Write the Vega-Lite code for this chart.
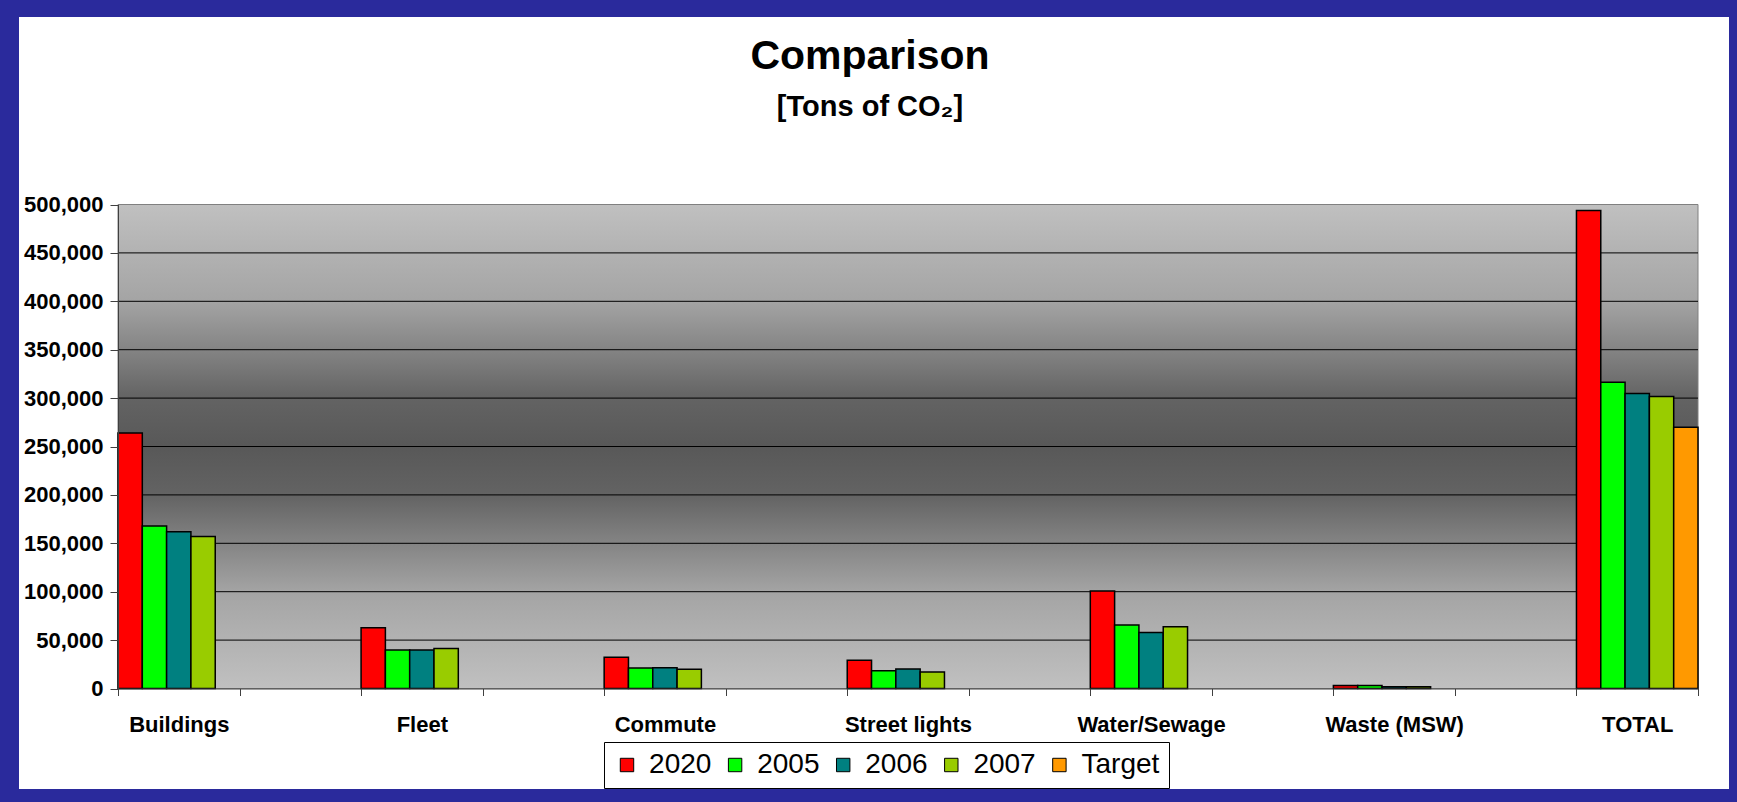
{
  "$schema": "https://vega.github.io/schema/vega-lite/v6.json",
  "width": 1710,
  "height": 772,
  "autosize": {"type": "none"},
  "padding": {"left": 19, "top": 17, "right": 8, "bottom": 13},
  "background": "#2a2a9c",
  "config": {
    "view": {"fill": "white", "stroke": null},
    "font": "Liberation Sans"
  },
  "title": {
    "text": "Comparison",
    "subtitle": "[Tons of CO₂]",
    "font": "Liberation Sans",
    "fontSize": 41,
    "fontWeight": "bold",
    "color": "black",
    "subtitleFont": "Liberation Sans",
    "subtitleFontSize": 29,
    "subtitleFontWeight": "bold",
    "subtitleColor": "black",
    "subtitlePadding": 15,
    "anchor": "middle",
    "offset": -106,
    "dx": -4
  },
  "data": {
    "values": [
      {"category": "Buildings", "series": "2020", "value": 264000},
      {"category": "Buildings", "series": "2005", "value": 168000},
      {"category": "Buildings", "series": "2006", "value": 162000},
      {"category": "Buildings", "series": "2007", "value": 157000},
      {"category": "Fleet", "series": "2020", "value": 62800},
      {"category": "Fleet", "series": "2005", "value": 39900},
      {"category": "Fleet", "series": "2006", "value": 39900},
      {"category": "Fleet", "series": "2007", "value": 41300},
      {"category": "Commute", "series": "2020", "value": 32300},
      {"category": "Commute", "series": "2005", "value": 21200},
      {"category": "Commute", "series": "2006", "value": 21500},
      {"category": "Commute", "series": "2007", "value": 19800},
      {"category": "Street lights", "series": "2020", "value": 29200},
      {"category": "Street lights", "series": "2005", "value": 18400},
      {"category": "Street lights", "series": "2006", "value": 20100},
      {"category": "Street lights", "series": "2007", "value": 17000},
      {"category": "Water/Sewage", "series": "2020", "value": 100700},
      {"category": "Water/Sewage", "series": "2005", "value": 65500},
      {"category": "Water/Sewage", "series": "2006", "value": 57900},
      {"category": "Water/Sewage", "series": "2007", "value": 63800},
      {"category": "Waste (MSW)", "series": "2020", "value": 3100},
      {"category": "Waste (MSW)", "series": "2005", "value": 3100},
      {"category": "Waste (MSW)", "series": "2006", "value": 1700},
      {"category": "Waste (MSW)", "series": "2007", "value": 1700},
      {"category": "TOTAL", "series": "2020", "value": 493800},
      {"category": "TOTAL", "series": "2005", "value": 316400},
      {"category": "TOTAL", "series": "2006", "value": 304800},
      {"category": "TOTAL", "series": "2007", "value": 301700},
      {"category": "TOTAL", "series": "Target", "value": 269900}
    ]
  },
  "layer": [
    {
      "data": {"values": [{"panel": "plot area"}]},
      "mark": {
        "type": "rect",
        "stroke": "#808080",
        "strokeWidth": 1,
        "fill": {
          "gradient": "linear",
          "x1": 0, "y1": 0, "x2": 0, "y2": 1,
          "stops": [
            {"offset": 0, "color": "#c0c0c0"},
            {"offset": 0.2, "color": "#a4a4a4"},
            {"offset": 0.3, "color": "#848484"},
            {"offset": 0.4, "color": "#636363"},
            {"offset": 0.5, "color": "#585858"},
            {"offset": 0.6, "color": "#636363"},
            {"offset": 0.7, "color": "#848484"},
            {"offset": 0.8, "color": "#a4a4a4"},
            {"offset": 1, "color": "#c0c0c0"}
          ]
        }
      },
      "encoding": {
        "x": {
          "datum": "Buildings", "type": "nominal", "bandPosition": 0,
          "scale": {
            "domain": ["Buildings", " ", "Fleet", "  ", "Commute", "   ", "Street lights", "    ", "Water/Sewage", "     ", "Waste (MSW)", "      ", "TOTAL"],
            "range": [99, 1679], "paddingInner": 0, "paddingOuter": 0
          },
          "axis": {
            "title": null, "orient": "bottom", "offset": -100.5, "tickBand": "extent",
            "tickSize": 7, "tickColor": "#404040", "domainColor": "#404040",
            "labelFontSize": 22, "labelFontWeight": "bold", "labelFont": "Liberation Sans",
            "labelColor": "black", "labelPadding": 19, "labelAngle": 0,
            "labelOverlap": false, "labelLimit": 0, "grid": false, "zindex": 1
          }
        },
        "x2": {"datum": "TOTAL", "bandPosition": 1},
        "y": {
          "datum": 500000, "type": "quantitative",
          "scale": {"domain": [0, 500000], "range": [671.5, 187.5], "nice": false},
          "axis": {
            "title": null, "offset": -99, "tickCount": 10, "format": ",",
            "labelExpr": "format(datum.value, ',')",
            "tickSize": 8, "tickColor": "#404040", "domainColor": "#404040",
            "labelFontSize": 22, "labelFontWeight": "bold", "labelFont": "Liberation Sans",
            "labelColor": "black", "labelPadding": 7, "grid": false, "zindex": 1
          }
        },
        "y2": {"datum": 0}
      }
    },
    {
      "data": {"values": [
        {"gridValue": 50000}, {"gridValue": 100000}, {"gridValue": 150000},
        {"gridValue": 200000}, {"gridValue": 250000}, {"gridValue": 300000},
        {"gridValue": 350000}, {"gridValue": 400000}, {"gridValue": 450000}
      ]},
      "mark": {"type": "rule", "color": "#000000", "strokeWidth": 1},
      "encoding": {
        "x": {
          "datum": "Buildings", "type": "nominal", "bandPosition": 0,
          "scale": {
            "domain": ["Buildings", " ", "Fleet", "  ", "Commute", "   ", "Street lights", "    ", "Water/Sewage", "     ", "Waste (MSW)", "      ", "TOTAL"],
            "range": [99, 1679], "paddingInner": 0, "paddingOuter": 0
          },
          "axis": {
            "title": null, "orient": "bottom", "offset": -100.5, "tickBand": "extent",
            "tickSize": 7, "tickColor": "#404040", "domainColor": "#404040",
            "labelFontSize": 22, "labelFontWeight": "bold", "labelFont": "Liberation Sans",
            "labelColor": "black", "labelPadding": 19, "labelAngle": 0,
            "labelOverlap": false, "labelLimit": 0, "grid": false, "zindex": 1
          }
        },
        "x2": {"datum": "TOTAL", "bandPosition": 1},
        "y": {
          "field": "gridValue", "type": "quantitative",
          "scale": {"domain": [0, 500000], "range": [671.5, 187.5], "nice": false},
          "axis": {
            "title": null, "offset": -99, "tickCount": 10, "format": ",",
            "labelExpr": "format(datum.value, ',')",
            "tickSize": 8, "tickColor": "#404040", "domainColor": "#404040",
            "labelFontSize": 22, "labelFontWeight": "bold", "labelFont": "Liberation Sans",
            "labelColor": "black", "labelPadding": 7, "grid": false, "zindex": 1
          }
        }
      }
    },
    {
      "mark": {"type": "bar", "stroke": "#000000", "strokeWidth": 1.5},
      "encoding": {
        "x": {
          "field": "category", "type": "nominal", "sort": null,
          "scale": {
            "domain": ["Buildings", " ", "Fleet", "  ", "Commute", "   ", "Street lights", "    ", "Water/Sewage", "     ", "Waste (MSW)", "      ", "TOTAL"],
            "range": [99, 1679], "paddingInner": 0, "paddingOuter": 0
          },
          "axis": {
            "title": null, "orient": "bottom", "offset": -100.5, "tickBand": "extent",
            "tickSize": 7, "tickColor": "#404040", "domainColor": "#404040",
            "labelFontSize": 22, "labelFontWeight": "bold", "labelFont": "Liberation Sans",
            "labelColor": "black", "labelPadding": 19, "labelAngle": 0,
            "labelOverlap": false, "labelLimit": 0, "grid": false, "zindex": 1
          }
        },
        "xOffset": {
          "field": "series", "type": "nominal",
          "scale": {"domain": ["2020", "2005", "2006", "2007", "Target"], "paddingInner": 0, "paddingOuter": 0}
        },
        "y": {
          "field": "value", "type": "quantitative",
          "scale": {"domain": [0, 500000], "range": [671.5, 187.5], "nice": false},
          "axis": {
            "title": null, "offset": -99, "tickCount": 10, "format": ",",
            "labelExpr": "format(datum.value, ',')",
            "tickSize": 8, "tickColor": "#404040", "domainColor": "#404040",
            "labelFontSize": 22, "labelFontWeight": "bold", "labelFont": "Liberation Sans",
            "labelColor": "black", "labelPadding": 7, "grid": false, "zindex": 1
          }
        },
        "color": {
          "field": "series", "type": "nominal",
          "scale": {
            "domain": ["2020", "2005", "2006", "2007", "Target"],
            "range": ["#ff0000", "#00ff00", "#008080", "#99cc00", "#ff9900"]
          },
          "legend": {
            "title": null,
            "orient": "none",
            "legendX": 585,
            "legendY": 725,
            "direction": "horizontal",
            "columns": 5,
            "symbolType": "square",
            "symbolSize": 180,
            "symbolStrokeColor": "black",
            "symbolStrokeWidth": 1,
            "symbolOpacity": 1,
            "symbolOffset": 0,
            "labelFontSize": 28,
            "labelFont": "Liberation Sans",
            "labelColor": "black",
            "labelOffset": 8.1,
            "columnPadding": 9.1,
            "padding": 9,
            "strokeColor": "black",
            "fillColor": "white"
          }
        }
      }
    }
  ]
}
